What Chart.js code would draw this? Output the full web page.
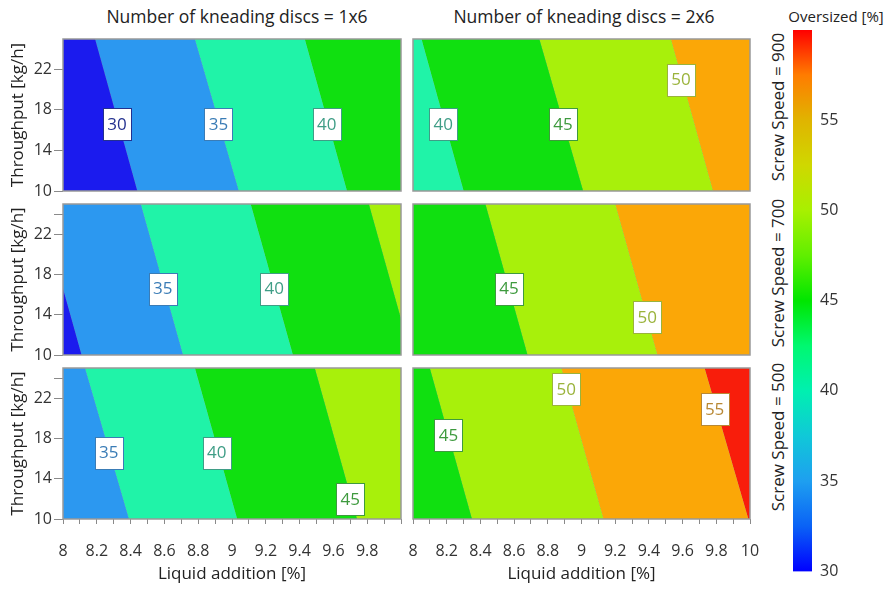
<!DOCTYPE html>
<html>
<head>
<meta charset="utf-8">
<script src="https://cdn.jsdelivr.net/npm/chart.js@4.4.1/dist/chart.umd.min.js"></script>
<style>
body{margin:0;background:#fff;font-family:"Open Sans",sans-serif;color:#222}
#wrap{position:relative;width:896px;height:589px;overflow:hidden}
.box{position:absolute}
.txt{position:absolute;white-space:nowrap;font-size:17.5px;transform:translate(-50%,-50%)}
.rot{position:absolute;white-space:nowrap;font-size:17px;transform:translate(-50%,-50%) rotate(-90deg)}
</style>
</head>
<body>
<div id="wrap">
  <div class="txt" style="left:237px;top:16px">Number of kneading discs = 1x6</div>
  <div class="txt" style="left:584px;top:16px">Number of kneading discs = 2x6</div>
  <div class="txt" style="left:836px;top:16px;font-size:15px">Oversized [%]</div>
  <div class="rot" style="left:777px;top:107px">Screw Speed = 900</div>
  <div class="rot" style="left:777px;top:273px">Screw Speed = 700</div>
  <div class="rot" style="left:777px;top:437px">Screw Speed = 500</div>

  <div class="box" style="left:0;top:31px;width:405px;height:172px"><canvas id="p900a"></canvas></div>
  <div class="box" style="left:403px;top:31px;width:359px;height:172px"><canvas id="p900b"></canvas></div>
  <div class="box" style="left:0;top:196px;width:405px;height:171px"><canvas id="p700a"></canvas></div>
  <div class="box" style="left:403px;top:196px;width:359px;height:171px"><canvas id="p700b"></canvas></div>
  <div class="box" style="left:0;top:360px;width:405px;height:229px"><canvas id="p500a"></canvas></div>
  <div class="box" style="left:403px;top:360px;width:359px;height:229px"><canvas id="p500b"></canvas></div>
  <div class="box" style="left:785px;top:0;width:111px;height:589px"><canvas id="cbar"></canvas></div>
</div>
<script>
const FONT = '"Open Sans", sans-serif';

// axes
const xMin = 8, xMax = 10;
const yMin = 10, yMax = 25;
const xTicks = [8, 8.1, 8.2, 8.3, 8.4, 8.5, 8.6, 8.7, 8.8, 8.9, 9, 9.1, 9.2, 9.3, 9.4, 9.5, 9.6, 9.7, 9.8, 9.9, 10];
const xLabelValues = [8, 8.2, 8.4, 8.6, 8.8, 9, 9.2, 9.4, 9.6, 9.8, 10];
const xLabelsLeft = ['8', '8.2', '8.4', '8.6', '8.8', '9', '9.2', '9.4', '9.6', '9.8', ''];
const xLabelsRight = ['8', '8.2', '8.4', '8.6', '8.8', '9', '9.2', '9.4', '9.6', '9.8', '10'];
const yTicksTop = [10, 14, 18, 22];
const yTicksLower = [10, 14, 18, 22, 24];
const yLabelValues = [10, 14, 18, 22];

// colour bands (lower edge of each 5% band) and label colours per level
const bandLows = [25, 30, 35, 40, 45, 50, 55];
const bandColors = ['#1b1bee', '#2c98f0', '#20f3a8', '#10e010', '#a8f00b', '#fba707', '#f81d0b'];
const labelLevels = [30, 35, 40, 45, 50, 55];
const labelColors = ['#23308f', '#3a7cb6', '#3f9d86', '#3e9a3e', '#9ab33b', '#b88834'];

// colour bar
const cbMin = 30, cbMax = 60;
const cbTicks = [30, 35, 40, 45, 50, 55];
const cbStops = [30, 32.5, 35, 37.5, 40, 42.5, 45, 47.5, 50, 52.5, 55, 57.5, 60];
const cbColors = ['#0000ff', '#0a62f6', '#1e9ff0', '#10c8d8', '#00f0b0', '#00f870', '#00e600', '#60ef00', '#a8f000', '#cfd800', '#e0b400', '#ff7c00', '#ff0000'];

// contour lines: x (liquid addition) where each level crosses throughput 10 and 25
// screw speed 900, 1x6
const lev900a = [30, 35, 40];
const x10_900a = [8.44, 9.04, 9.68];
const x25_900a = [8.19, 8.78, 9.43];
const labV_900a = [30, 35, 40];
const labX_900a = [8.32, 8.92, 9.56];
const labY_900a = [16.6, 16.6, 16.6];
// screw speed 900, 2x6
const lev900b = [40, 45, 50];
const x10_900b = [8.30, 9.01, 9.78];
const x25_900b = [8.05, 8.75, 9.53];
const labV_900b = [40, 45, 50];
const labX_900b = [8.18, 8.89, 9.59];
const labY_900b = [16.6, 16.6, 21.0];
// screw speed 700, 1x6
const lev700a = [30, 35, 40, 45];
const x10_700a = [8.11, 8.71, 9.36, 10.06];
const x25_700a = [7.86, 8.46, 9.11, 9.81];
const labV_700a = [35, 40];
const labX_700a = [8.59, 9.25];
const labY_700a = [16.6, 16.6];
// screw speed 700, 2x6
const lev700b = [45, 50];
const x10_700b = [8.68, 9.45];
const x25_700b = [8.43, 9.20];
const labV_700b = [45, 50];
const labX_700b = [8.57, 9.39];
const labY_700b = [16.6, 13.8];
// screw speed 500, 1x6
const lev500a = [35, 40, 45];
const x10_500a = [8.39, 9.03, 9.74];
const x25_500a = [8.13, 8.78, 9.49];
const labV_500a = [35, 40, 45];
const labX_500a = [8.27, 8.91, 9.70];
const labY_500a = [16.6, 16.6, 12.0];
// screw speed 500, 2x6
const lev500b = [45, 50, 55];
const x10_500b = [8.35, 9.13, 9.99];
const x25_500b = [8.10, 8.88, 9.73];
const labV_500b = [45, 50, 55];
const labX_500b = [8.21, 8.91, 9.79];
const labY_500b = [18.3, 22.9, 20.9];

function bandColor(low){ return bandColors[bandLows.indexOf(low)]; }
function labelColor(v){ return labelColors[labelLevels.indexOf(v)]; }

// white boxes with the level number on top of the contour lines
const contourLabels = {
  id: 'contourLabels',
  afterDatasetsDraw(chart){
    const ctx = chart.ctx;
    chart.data.datasets.forEach((ds, i)=>{
      if(!ds.isLabels) return;
      chart.getDatasetMeta(i).data.forEach((pt, j)=>{
        const v = ds.data[j].v;
        const c = labelColor(v);
        const w = 28, h = 32;
        const left = Math.round(pt.x - w/2) + 0.5, top = Math.round(pt.y - h/2) + 0.5;
        ctx.save();
        ctx.fillStyle = '#fff';
        ctx.fillRect(left, top, w, h);
        ctx.strokeStyle = c;
        ctx.lineWidth = 1;
        ctx.strokeRect(left, top, w, h);
        ctx.fillStyle = c;
        ctx.font = '17px ' + FONT;
        ctx.textAlign = 'center';
        ctx.textBaseline = 'middle';
        ctx.fillText(String(v), pt.x, pt.y + 1);
        ctx.restore();
      });
    });
  }
};

// grey frame round the plot area
const frame = {
  id: 'frame',
  afterDraw(chart){
    const a = chart.chartArea, ctx = chart.ctx;
    ctx.save();
    ctx.strokeStyle = '#999';
    ctx.lineWidth = 1.5;
    ctx.strokeRect(a.left, a.top, a.right - a.left, a.bottom - a.top);
    ctx.restore();
  }
};

function makePanel(id, p){
  // each band is a polygon between two contour lines (outermost ones close on the axis limits)
  const lows = [p.levels[0] - 5].concat(p.levels);
  const l10 = [xMin].concat(p.x10), l25 = [xMin].concat(p.x25);
  const r10 = p.x10.concat([xMax]), r25 = p.x25.concat([xMax]);
  const ds = lows.map((low, i)=>({
    data: [{x: l10[i], y: yMin}, {x: l25[i], y: yMax}, {x: r25[i], y: yMax}, {x: r10[i], y: yMin}],
    fill: 'shape',
    backgroundColor: bandColor(low),
    borderWidth: 0
  }));
  p.levels.forEach((lv, i)=>{
    ds.push({
      data: [{x: p.x10[i], y: yMin}, {x: p.x25[i], y: yMax}],
      fill: false,
      borderColor: 'rgba(40,70,60,0.55)',
      borderWidth: 1
    });
  });
  ds.push({
    isLabels: true,
    data: p.labV.map((v, i)=>({x: p.labX[i], y: p.labY[i], v})),
    showLine: false,
    fill: false,
    pointRadius: 0
  });

  const left = p.col === 0;
  const bottom = p.row === 2;
  const xLabels = left ? xLabelsLeft : xLabelsRight;
  const yTicks = p.row === 0 ? yTicksTop : yTicksLower;

  new Chart(document.getElementById(id), {
    type: 'line',
    data: { datasets: ds },
    plugins: [contourLabels, frame],
    options: {
      responsive: true,
      maintainAspectRatio: false,
      animation: false,
      events: [],
      layout: { padding: { left: left ? 0 : 10, right: left ? 4 : 12, top: 8, bottom: bottom ? 0 : 12 } },
      elements: { point: { radius: 0 }, line: { tension: 0 } },
      plugins: { legend: { display: false }, tooltip: { enabled: false } },
      scales: {
        x: {
          type: 'linear', min: xMin, max: xMax,
          display: bottom,
          afterBuildTicks: s => { s.ticks = xTicks.map(v=>({value: v})); },
          afterFit: s => {
            s.height = bottom ? 70 : 0;
            s.paddingLeft = 0; s.paddingRight = 0;
          },
          ticks: {
            autoSkip: false, maxRotation: 0, padding: 18,
            color: '#333', font: { size: 16, family: FONT },
            callback: v => {
              const k = xLabelValues.findIndex(l => Math.abs(l - v) < 1e-6);
              return k < 0 ? '' : xLabels[k];
            }
          },
          grid: { drawOnChartArea: false, tickLength: 5, color: '#8a8a8a' },
          border: { display: false },
          title: { display: true, text: 'Liquid addition [%]', color: '#222', font: { size: 17, family: FONT }, padding: { top: 0, bottom: 5 } }
        },
        y: {
          type: 'linear', min: yMin, max: yMax,
          display: left,
          afterBuildTicks: s => { s.ticks = yTicks.map(v=>({value: v})); },
          afterFit: s => {
            s.width = left ? 63 : 0;
            s.paddingTop = 0; s.paddingBottom = 0;
          },
          ticks: {
            padding: 2, color: '#333', font: { size: 16, family: FONT },
            callback: v => yLabelValues.includes(v) ? String(v) : ''
          },
          grid: { drawOnChartArea: false, tickLength: 9, color: '#8a8a8a' },
          border: { display: false },
          title: { display: true, text: 'Throughput [kg/h]', color: '#222', font: { size: 17, family: FONT }, padding: { top: 8, bottom: 0 } }
        }
      }
    }
  });
}

makePanel('p900a', { row: 0, col: 0, levels: lev900a, x10: x10_900a, x25: x25_900a, labV: labV_900a, labX: labX_900a, labY: labY_900a });
makePanel('p900b', { row: 0, col: 1, levels: lev900b, x10: x10_900b, x25: x25_900b, labV: labV_900b, labX: labX_900b, labY: labY_900b });
makePanel('p700a', { row: 1, col: 0, levels: lev700a, x10: x10_700a, x25: x25_700a, labV: labV_700a, labX: labX_700a, labY: labY_700a });
makePanel('p700b', { row: 1, col: 1, levels: lev700b, x10: x10_700b, x25: x25_700b, labV: labV_700b, labX: labX_700b, labY: labY_700b });
makePanel('p500a', { row: 2, col: 0, levels: lev500a, x10: x10_500a, x25: x25_500a, labV: labV_500a, labX: labX_500a, labY: labY_500a });
makePanel('p500b', { row: 2, col: 1, levels: lev500b, x10: x10_500b, x25: x25_500b, labV: labV_500b, labX: labX_500b, labY: labY_500b });

// colour bar
new Chart(document.getElementById('cbar'), {
  type: 'bar',
  data: {
    labels: [''],
    datasets: [{
      data: [[cbMin, cbMax]],
      borderWidth: 0,
      barPercentage: 1,
      categoryPercentage: 1,
      backgroundColor: c => {
        const ch = c.chart, ys = ch.scales.y;
        if(!ch.chartArea || !ys) return cbColors[0];
        const g = ch.ctx.createLinearGradient(0, ys.getPixelForValue(cbMin), 0, ys.getPixelForValue(cbMax));
        cbStops.forEach((v, i)=> g.addColorStop((v - cbMin)/(cbMax - cbMin), cbColors[i]));
        return g;
      }
    }]
  },
  options: {
    responsive: true,
    maintainAspectRatio: false,
    animation: false,
    events: [],
    layout: { padding: { left: 8, right: 0, top: 30, bottom: 16 } },
    plugins: { legend: { display: false }, tooltip: { enabled: false } },
    scales: {
      x: { display: false },
      y: {
        position: 'right', min: cbMin, max: cbMax,
        afterBuildTicks: s => { s.ticks = cbTicks.map(v=>({value: v})); },
        afterFit: s => { s.width = 84; },
        ticks: { padding: 8, color: '#333', font: { size: 16, family: FONT } },
        grid: { display: false, drawTicks: false },
        border: { display: false }
      }
    }
  }
});
</script>
</body>
</html>
